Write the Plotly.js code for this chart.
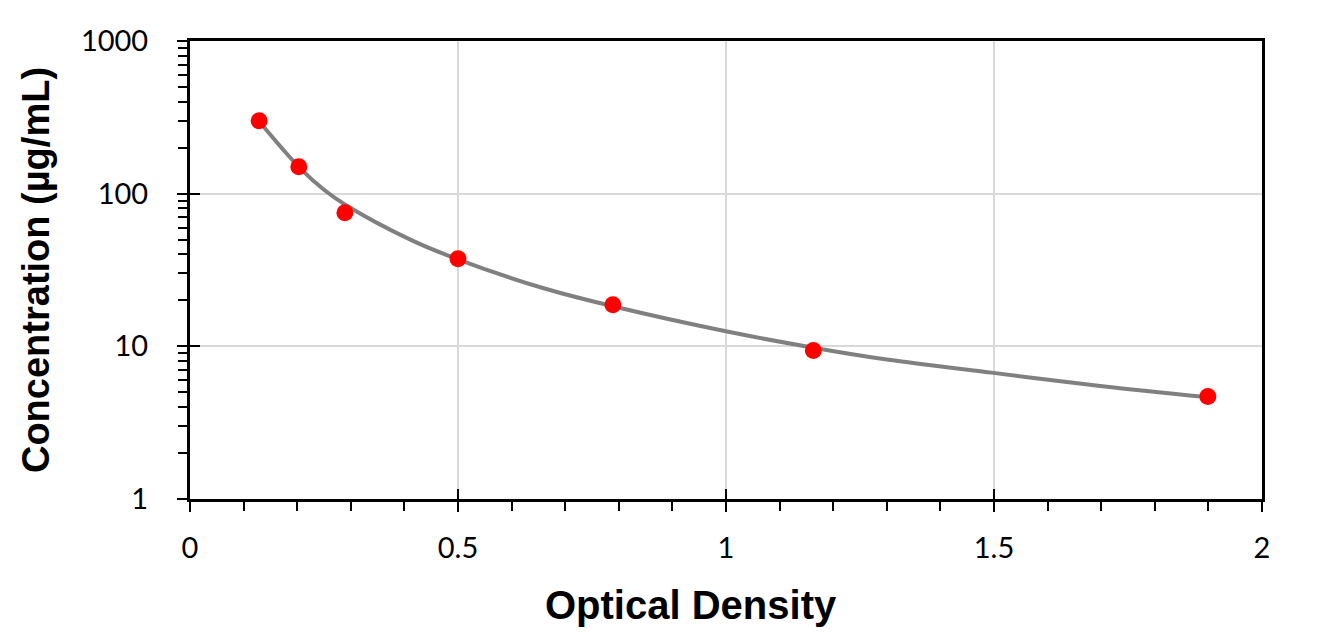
<!DOCTYPE html>
<html>
<head>
<meta charset="utf-8">
<script src="https://cdn.plot.ly/plotly-3.0.1.min.js"></script>
<style>html,body{margin:0;padding:0;background:#fff;}#chart{width:1328px;height:640px;}</style>
</head>
<body>
<div id="chart"></div>
<script>
// Standard points
const odValues = [0.129, 0.203, 0.289, 0.500, 0.789, 1.163, 1.899];
const concValues = [300, 150, 75, 37.5, 18.75, 9.375, 4.69];
// Fitted curve
const curveOD = [0.13, 0.203, 0.25, 0.289, 0.411, 0.501, 0.66, 0.789, 1.002, 1.163, 1.3, 1.499, 1.698, 1.897];
const curveConc = [295, 150, 106, 85, 50, 37, 24, 18.3, 12.5, 9.8, 8.2, 6.7, 5.5, 4.65];
// Ticks
const yTickVals = [1, 10, 100, 1000];
const yTickText = ['1', '10', '100', '1000'];
const yMinorVals = [2,3,4,5,6,7,8,9,20,30,40,50,60,70,80,90,200,300,400,500,600,700,800,900];
const xTickVals = [0, 0.5, 1, 1.5, 2];
const xTickText = ['0', '0.5', '1', '1.5', '2'];
const xTitle = 'Optical Density';
const yTitle = 'Concentration (µg/mL)';

const tickFont = {family: 'Lato, "Open Sans", sans-serif', size: 29, color: '#000'};
const titleFont = {family: '"Liberation Sans", Arial, sans-serif', size: 38, color: '#000', weight: 'bold'};

const traces = [
  {x: curveOD, y: curveConc, mode: 'lines', type: 'scatter',
   line: {color: '#808080', width: 4, shape: 'spline', smoothing: 1}, hoverinfo: 'skip', showlegend: false},
  {x: odValues, y: concValues, mode: 'markers', type: 'scatter',
   marker: {color: '#ff0000', size: 17}, showlegend: false},
  {x: [], y: [], xaxis: 'x2', yaxis: 'y', type: 'scatter', showlegend: false},
  {x: [], y: [], xaxis: 'x', yaxis: 'y2', type: 'scatter', showlegend: false}
];

const layout = {
  width: 1328, height: 640,
  margin: {l: 190, r: 66, t: 41, b: 141},
  paper_bgcolor: '#fff', plot_bgcolor: '#fff',
  showlegend: false,
  xaxis: {
    range: [0, 2], tickmode: 'array', tickvals: xTickVals, ticktext: xTickText,
    ticks: 'outside', ticklen: 10, tickwidth: 2, tickcolor: '#000',
    minor: {dtick: 0.1, tick0: 0, ticks: 'outside', ticklen: 9, tickwidth: 2, tickcolor: '#000', showgrid: false},
    showgrid: true, gridcolor: '#d9d9d9', gridwidth: 2, zeroline: false,
    showline: true, linecolor: '#000', linewidth: 3, mirror: true,
    tickfont: tickFont, ticklabelstandoff: 11
  },
  yaxis: {
    type: 'log', range: [0, 3], tickmode: 'array', tickvals: yTickVals, ticktext: yTickText,
    ticks: 'outside', ticklen: 10, tickwidth: 2, tickcolor: '#000',
    minor: {tickmode: 'array', tickvals: yMinorVals, ticks: 'outside', ticklen: 9, tickwidth: 2, tickcolor: '#000', showgrid: false},
    showgrid: true, gridcolor: '#d9d9d9', gridwidth: 2, zeroline: false,
    showline: true, linecolor: '#000', linewidth: 3, mirror: true,
    tickfont: tickFont, ticklabelstandoff: 23,
    title: {text: yTitle, font: titleFont, standoff: 20}
  },
  xaxis2: {
    overlaying: 'x', anchor: 'y', side: 'bottom', range: [0, 2],
    tickmode: 'array', tickvals: xTickVals, ticks: 'inside', ticklen: 10, tickwidth: 2, tickcolor: '#000',
    showticklabels: false, showgrid: false, showline: false, zeroline: false
  },
  yaxis2: {
    overlaying: 'y', anchor: 'x', side: 'left', type: 'log', range: [0, 3],
    tickmode: 'array', tickvals: yTickVals, ticks: 'inside', ticklen: 10, tickwidth: 2, tickcolor: '#000',
    showticklabels: false, showgrid: false, showline: false, zeroline: false
  },
  annotations: [{
    text: xTitle, xref: 'paper', yref: 'paper', x: 0.4675, y: -0.232,
    xanchor: 'center', yanchor: 'middle', showarrow: false,
    font: {family: '"Liberation Sans", Arial, sans-serif', size: 40, color: '#000', weight: 'bold'}
  }]
};

Plotly.newPlot('chart', traces, layout, {staticPlot: true, displayModeBar: false});
</script>
</body>
</html>
